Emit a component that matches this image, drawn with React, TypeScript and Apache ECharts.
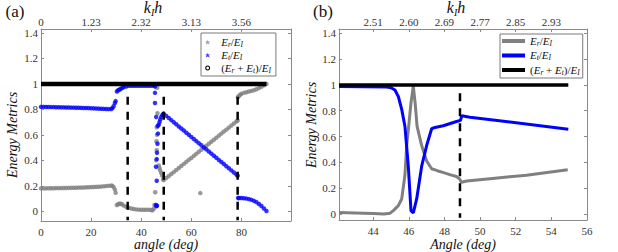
import React, { useEffect, useRef } from "react";
import * as echarts from "echarts";

// ---------------- Panel (a) data: [angle (deg), value] ----------------
const erA: number[][] = [
  [0, 0.18], [1, 0.18], [2, 0.18], [3, 0.181], [4, 0.181], [5, 0.181], [6, 0.182], [7, 0.182],
  [8, 0.182], [9, 0.183], [10, 0.183], [11, 0.184], [12, 0.184], [13, 0.185], [14, 0.185],
  [15, 0.186], [16, 0.186], [17, 0.187], [18, 0.188], [19, 0.189], [20, 0.19], [21, 0.191],
  [22, 0.192], [23, 0.193], [24, 0.194], [25, 0.196], [26, 0.198], [27, 0.2], [28, 0.202],
  [28.5, 0.2], [29, 0.19], [29.5, 0.17], [29.8, 0.145],
  [30.3, 0.05], [30.8, 0.055], [31.3, 0.06], [31.8, 0.06], [32.3, 0.055], [33, 0.045], [34, 0.035],
  [35, 0.028], [36, 0.022], [37, 0.018], [38, 0.015], [39, 0.013], [40, 0.012], [41, 0.012],
  [42, 0.012], [43, 0.012], [44, 0.01], [44.5, 0.008], [45, 0.02], [45.3, 0.05],
  [45.6, 0.15], [46.0, 0.4], [46.2, 0.48], [46.1, 0.55], [46.3, 0.6], [46.2, 0.66], [46.5, 0.77], [46.4, 0.97],
  [47.0, 0.36], [47.3, 0.34], [47.6, 0.32], [48.0, 0.3], [48.4, 0.28], [48.8, 0.25],
  [49, 0.245], [50, 0.261], [51, 0.277], [52, 0.293], [53, 0.308], [54, 0.324], [55, 0.34],
  [56, 0.356], [57, 0.372], [58, 0.388], [59, 0.404], [60, 0.419], [61, 0.435], [62, 0.451],
  [63, 0.467], [64, 0.483], [65, 0.499], [66, 0.515], [67, 0.53], [68, 0.546], [69, 0.562],
  [70, 0.578], [71, 0.594], [72, 0.61], [73, 0.626], [74, 0.641], [75, 0.657], [76, 0.673],
  [77, 0.689], [78, 0.705], [78.5, 0.713],
  [63.6, 0.143],
  [78.6, 0.895], [79, 0.905], [79.5, 0.915], [80, 0.922], [81, 0.93], [82, 0.935], [83, 0.94],
  [84, 0.945], [85, 0.95], [86, 0.958], [87, 0.967], [88, 0.978], [89, 0.99], [90, 1.0],
];

const etA: number[][] = [
  [0, 0.82], [1, 0.82], [2, 0.819], [3, 0.819], [4, 0.818], [5, 0.818], [6, 0.817], [7, 0.817],
  [8, 0.816], [9, 0.816], [10, 0.815], [11, 0.815], [12, 0.814], [13, 0.814], [14, 0.813],
  [15, 0.813], [16, 0.812], [17, 0.811], [18, 0.811], [19, 0.81], [20, 0.809], [21, 0.808],
  [22, 0.807], [23, 0.806], [24, 0.805], [25, 0.804], [26, 0.803], [27, 0.802], [28, 0.803],
  [28.5, 0.81], [29, 0.825], [29.5, 0.85], [29.8, 0.865],
  [30.3, 0.94], [30.8, 0.95], [31.3, 0.955], [31.8, 0.96], [32.5, 0.97], [33, 0.975], [34, 0.98],
  [35, 0.985], [36, 0.985], [37, 0.985], [38, 0.985], [39, 0.985], [40, 0.985], [41, 0.985],
  [42, 0.985], [43, 0.985], [44, 0.985], [45, 0.985],
  [45.5, 0.98], [45.5, 0.93], [45.5, 0.85], [46.0, 0.74], [46.6, 0.67], [46.7, 0.61], [46.5, 0.53],
  [46.3, 0.46], [46.2, 0.41], [45.9, 0.35], [46.2, 0.24], [45.9, 0.05], [46.1, 0.04], [46.3, 0.045],
  [47.0, 0.68], [47.3, 0.7], [47.6, 0.72], [48.0, 0.74], [48.4, 0.755], [48.8, 0.765],
  [49, 0.765], [50, 0.749], [51, 0.732], [52, 0.716], [53, 0.699], [54, 0.683], [55, 0.666],
  [56, 0.65], [57, 0.634], [58, 0.617], [59, 0.601], [60, 0.584], [61, 0.568], [62, 0.551],
  [63, 0.535], [64, 0.518], [65, 0.502], [66, 0.486], [67, 0.469], [68, 0.453], [69, 0.436],
  [70, 0.42], [71, 0.403], [72, 0.387], [73, 0.371], [74, 0.354], [75, 0.338], [76, 0.321],
  [77, 0.305], [78, 0.288], [78.5, 0.28],
  [78.7, 0.105], [79, 0.105], [80, 0.104], [81, 0.103], [82, 0.1], [83, 0.096], [84, 0.09],
  [85, 0.082], [86, 0.072], [87, 0.058], [88, 0.042], [89, 0.022], [90, 0.003],
];

const totA: number[][] = [[0, 1], [90, 1]];
const dashXA = [34.6, 49.0, 78.5];
const dashTopA = 0.9;
const dashBottomA = -0.07;

// ---------------- Panel (b) data ----------------
const erB: number[][] = [
  [42.08, 0.012], [43.0, 0.008], [44.0, 0.003], [44.6, 0.0], [44.95, 0.006], [45.13, 0.026],
  [45.41, 0.064], [45.6, 0.116], [45.78, 0.3], [45.88, 0.53], [46.0, 0.69], [46.12, 0.86],
  [46.25, 0.99], [46.36, 0.85], [46.46, 0.68], [46.72, 0.53], [47.0, 0.41], [47.28, 0.35],
  [47.6, 0.335], [47.95, 0.32], [48.3, 0.305], [48.67, 0.29], [48.86, 0.27], [48.95, 0.245],
  [49.25, 0.255], [50.7, 0.275], [52.6, 0.3], [54.92, 0.343],
];
const etB: number[][] = [
  [42.08, 0.988], [44.76, 0.984], [45.0, 0.978], [45.22, 0.96], [45.41, 0.91], [45.6, 0.81],
  [45.78, 0.68], [45.97, 0.37], [46.12, 0.026], [46.25, 0.008], [46.44, 0.116], [46.72, 0.37],
  [47.0, 0.53], [47.28, 0.66], [47.47, 0.67], [47.93, 0.683], [48.68, 0.716], [48.9, 0.725],
  [48.97, 0.76], [49.43, 0.75], [54.95, 0.657],
];
const totB: number[][] = [[42.08, 1], [54.95, 1]];
const dashXB = [48.87];
const dashTopB = 0.935;
const dashBottomB = -0.03;

// ---------------- Ticks ----------------
const yTicks = [0, 0.2, 0.4, 0.6, 0.8, 1, 1.2, 1.4];
const xTicksA = [0, 20, 40, 60, 80];
const kTopA = ["0", "1.23", "2.32", "3.13", "3.56"];
const xTicksB = [44, 46, 48, 50, 52, 54, 56];
const xTopTicksB = [44, 46, 48, 50, 52, 54];
const kTopB = ["2.51", "2.60", "2.69", "2.77", "2.85", "2.93"];

const GRAY = "#808080";
const BLUE = "#0000ff";
const AX = "#8a8a8a";
const LBL = "#333333";
const SERIF = "Liberation Serif";

const legendNames: Record<string, string> = {
  a_Er: "{i|E}{s|r}{n|/}{i|E}{s|I}",
  a_Et: "{i|E}{s|t}{n|/}{i|E}{s|I}",
  a_tot: "{n|(}{i|E}{s|r}{n| + }{i|E}{s|t}{n|)/}{i|E}{s|I}",
  b_Er: "{i|E}{s|r}{n|/}{i|E}{s|I}",
  b_Et: "{i|E}{s|t}{n|/}{i|E}{s|I}",
  b_tot: "{n|(}{i|E}{s|r}{n| + }{i|E}{s|t}{n|)/}{i|E}{s|I}",
};

const richLegend = {
  i: { fontFamily: SERIF, fontStyle: "italic", fontSize: 11, color: "#111", lineHeight: 12, verticalAlign: "top" },
  n: { fontFamily: SERIF, fontSize: 11, color: "#111", lineHeight: 12, verticalAlign: "top" },
  s: { fontFamily: SERIF, fontStyle: "italic", fontSize: 7.5, color: "#111", lineHeight: 12, verticalAlign: "bottom" },
};

const STAR = "path://M50 0 L59 38 L98 31 L68 56 L88 90 L50 70 L12 90 L32 56 L2 31 L41 38 Z";
const RING = "path://M50 0 A50 50 0 1 1 49.9 0 Z M50 22 A28 28 0 1 0 50.1 22 Z";

function fmtY(v: number) {
  if (Math.abs(v) < 1e-9) return "0";
  if (Math.abs(v - 1) < 1e-9) return "1";
  return v.toFixed(1);
}

function baseAxis() {
  return {
    axisLine: { show: true, onZero: false, lineStyle: { color: AX, width: 1 } },
    splitLine: { show: false },
  };
}

function yAxisFor(grid: number, min: number, max: number, right: boolean) {
  return {
    ...baseAxis(),
    type: "value",
    gridIndex: grid,
    position: right ? "right" : "left",
    min,
    max,
    axisTick: { show: true, inside: true, length: 3, customValues: yTicks, lineStyle: { color: AX } },
    axisLabel: {
      show: !right,
      customValues: yTicks,
      margin: 3,
      color: LBL,
      fontFamily: SERIF,
      fontSize: 11,
      formatter: (v: number) => fmtY(v),
    },
  };
}

function xAxisFor(grid: number, min: number, max: number, top: boolean, ticks: number[], labels?: string[]) {
  return {
    ...baseAxis(),
    type: "value",
    gridIndex: grid,
    position: top ? "top" : "bottom",
    min,
    max,
    axisTick: { show: true, inside: true, length: 3, customValues: ticks, lineStyle: { color: AX } },
    axisLabel: {
      customValues: ticks,
      margin: top ? 2 : 5,
      color: LBL,
      fontFamily: SERIF,
      fontSize: 11,
      formatter: (v: number) => {
        if (labels) {
          const idx = ticks.findIndex((t) => Math.abs(t - v) < 1e-9);
          return idx >= 0 ? labels[idx] : "";
        }
        return String(v);
      },
    },
  };
}

function dashSeries(name: string, xi: number, yi: number, x: number, top: number, bottom: number) {
  return {
    name,
    type: "line",
    xAxisIndex: xi,
    yAxisIndex: yi,
    data: [[x, top], [x, bottom]],
    symbol: "none",
    silent: true,
    z: 5,
    lineStyle: { color: "#000", width: 2.5, type: [8, 7] },
  };
}

const kRich = {
  k: { fontFamily: SERIF, fontStyle: "italic", fontSize: 16, fill: "#111", lineHeight: 18, verticalAlign: "top" },
  s: { fontFamily: SERIF, fontStyle: "italic", fontSize: 10, fill: "#111", lineHeight: 18, verticalAlign: "bottom" },
};

export default function App() {
  const ref = useRef<HTMLDivElement>(null);

  useEffect(() => {
    if (!ref.current) return;
    const chart = echarts.init(ref.current, null, { renderer: "svg" });

    const option: any = {
      animation: false,
      backgroundColor: "#ffffff",
      grid: [
        { left: 41, top: 29, width: 250, height: 192 },
        { left: 339, top: 29, width: 248, height: 191 },
      ],
      xAxis: [
        xAxisFor(0, 0, 99.8, false, xTicksA),
        xAxisFor(0, 0, 99.8, true, xTicksA, kTopA),
        xAxisFor(1, 42.08, 56, false, xTicksB),
        xAxisFor(1, 42.08, 56, true, xTopTicksB, kTopB),
      ],
      yAxis: [
        yAxisFor(0, -0.076, 1.431, false),
        yAxisFor(0, -0.076, 1.431, true),
        yAxisFor(1, -0.047, 1.433, false),
        yAxisFor(1, -0.047, 1.433, true),
      ],
      legend: [
        {
          left: 201,
          top: 33,
          orient: "vertical",
          padding: [3, 5, 2, 4],
          itemGap: 1,
          itemWidth: 17,
          itemHeight: 5,
          borderColor: "#7a7a7a",
          borderWidth: 1,
          backgroundColor: "#ffffff",
          selectedMode: false,
          formatter: (n: string) => legendNames[n],
          textStyle: { rich: richLegend },
          data: [
            { name: "a_Er", icon: STAR },
            { name: "a_Et", icon: STAR },
            { name: "a_tot", icon: RING },
          ],
        },
        {
          left: 500,
          top: 34,
          orient: "vertical",
          padding: [1, 3, 2, 2],
          itemGap: 2.5,
          itemWidth: 23,
          itemHeight: 4,
          borderColor: "#7a7a7a",
          borderWidth: 1,
          backgroundColor: "#ffffff",
          selectedMode: false,
          formatter: (n: string) => legendNames[n],
          textStyle: { rich: richLegend },
          data: [
            { name: "b_Er", icon: "rect" },
            { name: "b_Et", icon: "rect" },
            { name: "b_tot", icon: "rect" },
          ],
        },
      ],
      series: [
        dashSeries("dA0", 0, 0, dashXA[0], dashTopA, dashBottomA),
        dashSeries("dA1", 0, 0, dashXA[1], dashTopA, dashBottomA),
        dashSeries("dA2", 0, 0, dashXA[2], dashTopA, dashBottomA),
        {
          name: "a_Er",
          type: "scatter",
          xAxisIndex: 0,
          yAxisIndex: 0,
          data: erA,
          symbol: "circle",
          symbolSize: 4.5,
          itemStyle: { color: GRAY },
          z: 2,
        },
        {
          name: "a_Et",
          type: "scatter",
          xAxisIndex: 0,
          yAxisIndex: 0,
          data: etA,
          symbol: "circle",
          symbolSize: 4.5,
          itemStyle: { color: BLUE },
          z: 3,
        },
        {
          name: "a_tot",
          type: "line",
          xAxisIndex: 0,
          yAxisIndex: 0,
          data: totA,
          symbol: "none",
          lineStyle: { color: "#000", width: 4.5 },
          itemStyle: { color: "#000" },
          z: 4,
        },
        dashSeries("dB0", 2, 2, dashXB[0], dashTopB, dashBottomB),
        {
          name: "b_Er",
          type: "line",
          xAxisIndex: 2,
          yAxisIndex: 2,
          data: erB,
          symbol: "none",
          lineStyle: { color: GRAY, width: 3 },
          itemStyle: { color: GRAY },
          z: 2,
        },
        {
          name: "b_Et",
          type: "line",
          xAxisIndex: 2,
          yAxisIndex: 2,
          data: etB,
          symbol: "none",
          lineStyle: { color: BLUE, width: 3 },
          itemStyle: { color: BLUE },
          z: 3,
        },
        {
          name: "b_tot",
          type: "line",
          xAxisIndex: 2,
          yAxisIndex: 2,
          data: totB,
          symbol: "none",
          lineStyle: { color: "#000", width: 3.5 },
          itemStyle: { color: "#000" },
          z: 4,
        },
      ],
      graphic: [
        { type: "text", x: 15, y: 11, style: { text: "(a)", fontFamily: SERIF, fontSize: 17, fill: "#111", align: "center", verticalAlign: "middle" } },
        { type: "text", x: 323, y: 11, style: { text: "(b)", fontFamily: SERIF, fontSize: 17, fill: "#111", align: "center", verticalAlign: "middle" } },
        { type: "text", x: 153, y: 8, style: { text: "{k|k}{s|I}{k|h}", align: "center", verticalAlign: "middle", rich: kRich } },
        { type: "text", x: 456, y: 8, style: { text: "{k|k}{s|I}{k|h}", align: "center", verticalAlign: "middle", rich: kRich } },
        { type: "text", x: 166, y: 244, style: { text: "angle (deg)", fontFamily: SERIF, fontStyle: "italic", fontSize: 14, fill: "#111", align: "center", verticalAlign: "middle" } },
        { type: "text", x: 463, y: 244, style: { text: "Angle (deg)", fontFamily: SERIF, fontStyle: "italic", fontSize: 14, fill: "#111", align: "center", verticalAlign: "middle" } },
        { type: "text", x: 12, y: 135, rotation: Math.PI / 2, style: { text: "Energy Metrics", fontFamily: SERIF, fontStyle: "italic", fontSize: 14, fill: "#111", align: "center", verticalAlign: "middle" } },
        { type: "text", x: 311, y: 125, rotation: Math.PI / 2, style: { text: "Energy Metrics", fontFamily: SERIF, fontStyle: "italic", fontSize: 14, fill: "#111", align: "center", verticalAlign: "middle" } },
      ],
    };

    chart.setOption(option);
    return () => chart.dispose();
  }, []);

  return (
    <div
      ref={ref}
      style={{ position: "absolute", left: 0, top: 0, width: 618, height: 252 }}
    />
  );
}
